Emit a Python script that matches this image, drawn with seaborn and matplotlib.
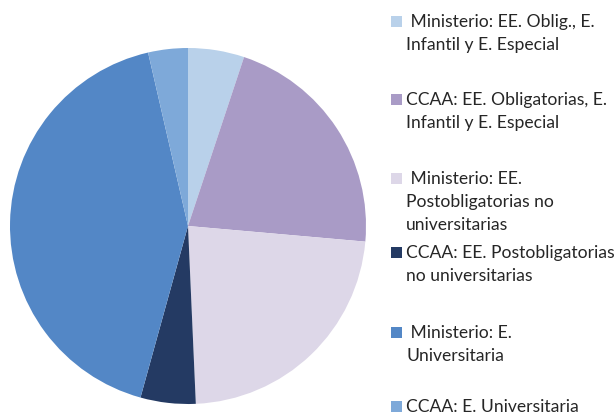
import matplotlib
matplotlib.use("Agg")
import matplotlib.pyplot as plt
import seaborn as sns
from matplotlib.patches import Rectangle

sns.set_style("white")
plt.rcParams['font.family'] = ['Lato', 'DejaVu Sans']

labels = [
    " Ministerio: EE. Oblig., E.\nInfantil y E. Especial",
    "CCAA: EE. Obligatorias, E.\nInfantil y E. Especial",
    " Ministerio: EE.\nPostobligatorias no\nuniversitarias",
    "CCAA: EE. Postobligatorias\nno universitarias",
    " Ministerio: E.\nUniversitaria",
    "CCAA: E. Universitaria",
]
values = [5.1, 21.3, 22.9, 5.0, 42.1, 3.6]
colors = ["#B9D1EA", "#A99BC6", "#DDD7E8", "#243A63", "#5387C6", "#7EA9D9"]
legend_y = [22, 100, 179, 253, 333, 407]

W, H = 614, 414
fig = plt.figure(figsize=(W / 100, H / 100), dpi=100)
ax = fig.add_axes([10 / W, 9 / H, 356 / W, 356 / H])
ax.pie(values, colors=colors, startangle=90, counterclock=False,
       wedgeprops=dict(linewidth=0))
ax.set_xlim(-1, 1)
ax.set_ylim(-1, 1)
ax.set_aspect("equal")
ax.axis("off")

line_h = 23
for lab, col, yc in zip(labels, colors, legend_y):
    fig.patches.append(Rectangle((391 / W, 1 - (yc + 5.5) / H), 11 / W, 11 / H,
                                 transform=fig.transFigure, facecolor=col,
                                 edgecolor="none"))
    for i, line in enumerate(lab.split("\n")):
        fig.text(406 / W, 1 - (yc + i * line_h) / H, line, fontsize=12.6,
                 color="#262626", va="center", ha="left")

fig.savefig("out.png", dpi=100)
